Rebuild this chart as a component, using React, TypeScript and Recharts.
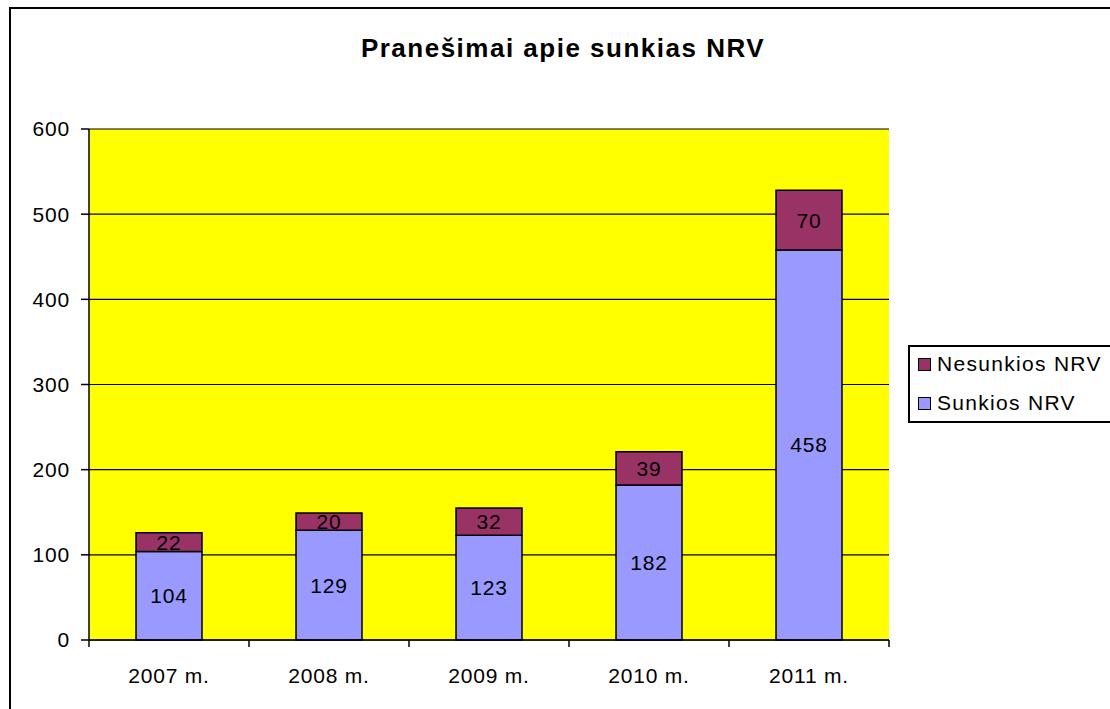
import React from 'react';
import { BarChart, Bar, XAxis, YAxis, CartesianGrid, LabelList } from 'recharts';

const years = ['2007 m.', '2008 m.', '2009 m.', '2010 m.', '2011 m.'];
const sunkios = [104, 129, 123, 182, 458];
const nesunkios = [22, 20, 32, 39, 70];
const yTicks = [0, 100, 200, 300, 400, 500, 600];
const title = 'Pranešimai apie sunkias NRV';
const seriesNames = { sunkios: 'Sunkios NRV', nesunkios: 'Nesunkios NRV' };

const data = years.map((y, i) => ({ year: y, sunkios: sunkios[i], nesunkios: nesunkios[i] }));

const FONT = '"Liberation Sans", Arial, sans-serif';
const COLOR_S = '#9999FF';
const COLOR_N = '#993366';

const XTick = (props: any) => {
  const { x, y, payload, index } = props;
  const half = 80;
  return (
    <g>
      <line x1={x - half} x2={x - half} y1={y} y2={y + 7} stroke="#000" strokeWidth={1.5} />
      {index === years.length - 1 && (
        <line x1={x + half} x2={x + half} y1={y} y2={y + 7} stroke="#000" strokeWidth={1.5} />
      )}
      <text x={x} y={y + 43} textAnchor="middle" fontFamily={FONT} fontSize={21} letterSpacing={0.8} fill="#000">
        {payload.value}
      </text>
    </g>
  );
};

export default function App() {
  return (
    <div style={{ position: 'absolute', left: 0, top: 0, width: 1110, height: 709, overflow: 'hidden', background: '#fff' }}>
      <div style={{ position: 'absolute', left: 9, top: 7, width: 1200, height: 800, border: '2px solid #000' }} />
      <div style={{ position: 'absolute', left: 0, top: 0 }}>
        <BarChart width={1110} height={709} data={data} margin={{ top: 129, right: 221, left: 9, bottom: 29 }}>
          <text x={563} y={57} textAnchor="middle" fontFamily={FONT} fontWeight="bold" fontSize={26} letterSpacing={1.5} fill="#000">
            {title}
          </text>
          <CartesianGrid vertical={false} stroke="#000" strokeWidth={1.2} fill="#FFFF00" fillOpacity={1} />
          <XAxis
            dataKey="year"
            height={40}
            tickLine={false}
            tickSize={0}
            tickMargin={0}
            axisLine={{ stroke: '#000', strokeWidth: 1.5 }}
            tick={<XTick />}
            interval={0}
          />
          <XAxis xAxisId="top" orientation="top" height={0} tick={false} tickLine={false} axisLine={{ stroke: '#808080', strokeWidth: 2 }} dataKey="year" />
          <YAxis
            width={80}
            domain={[0, 600]}
            ticks={yTicks}
            tickSize={8}
            tickMargin={11}
            axisLine={{ stroke: '#000', strokeWidth: 1.5 }}
            tickLine={{ stroke: '#000', strokeWidth: 1.5 }}
            tick={{ fontFamily: FONT, fontSize: 21, fill: '#000', letterSpacing: 0.8 }}
            interval={0}
          />
          <YAxis yAxisId="right" orientation="right" width={0} tick={false} tickLine={false} domain={[0, 600]} axisLine={{ stroke: '#808080', strokeWidth: 2 }} />
          <Bar dataKey="sunkios" name={seriesNames.sunkios} stackId="a" fill={COLOR_S} stroke="#000" strokeWidth={1.5} barSize={66} isAnimationActive={false}>
            <LabelList dataKey="sunkios" position="center" fontFamily={FONT} fontSize={21} fill="#000" letterSpacing={0.8} />
          </Bar>
          <Bar dataKey="nesunkios" name={seriesNames.nesunkios} stackId="a" fill={COLOR_N} stroke="#000" strokeWidth={1.5} barSize={66} isAnimationActive={false}>
            <LabelList dataKey="nesunkios" position="center" fontFamily={FONT} fontSize={21} fill="#000" letterSpacing={0.8} />
          </Bar>
        </BarChart>
      </div>
      <div
        style={{
          position: 'absolute',
          left: 908,
          top: 345,
          width: 260,
          height: 74,
          border: '2px solid #000',
          background: '#fff',
          fontFamily: FONT,
          fontSize: 21,
          letterSpacing: 1.3,
          color: '#000',
        }}
      >
        {[
          { name: seriesNames.nesunkios, color: COLOR_N },
          { name: seriesNames.sunkios, color: COLOR_S },
        ].map((item, i) => (
          <div key={item.name} style={{ position: 'absolute', left: 8, top: 5 + i * 39, height: 24, display: 'flex', alignItems: 'center', whiteSpace: 'nowrap' }}>
            <span style={{ display: 'inline-block', width: 11, height: 11, background: item.color, border: '1.5px solid #000', marginRight: 6 }} />
            <span>{item.name}</span>
          </div>
        ))}
      </div>
    </div>
  );
}
